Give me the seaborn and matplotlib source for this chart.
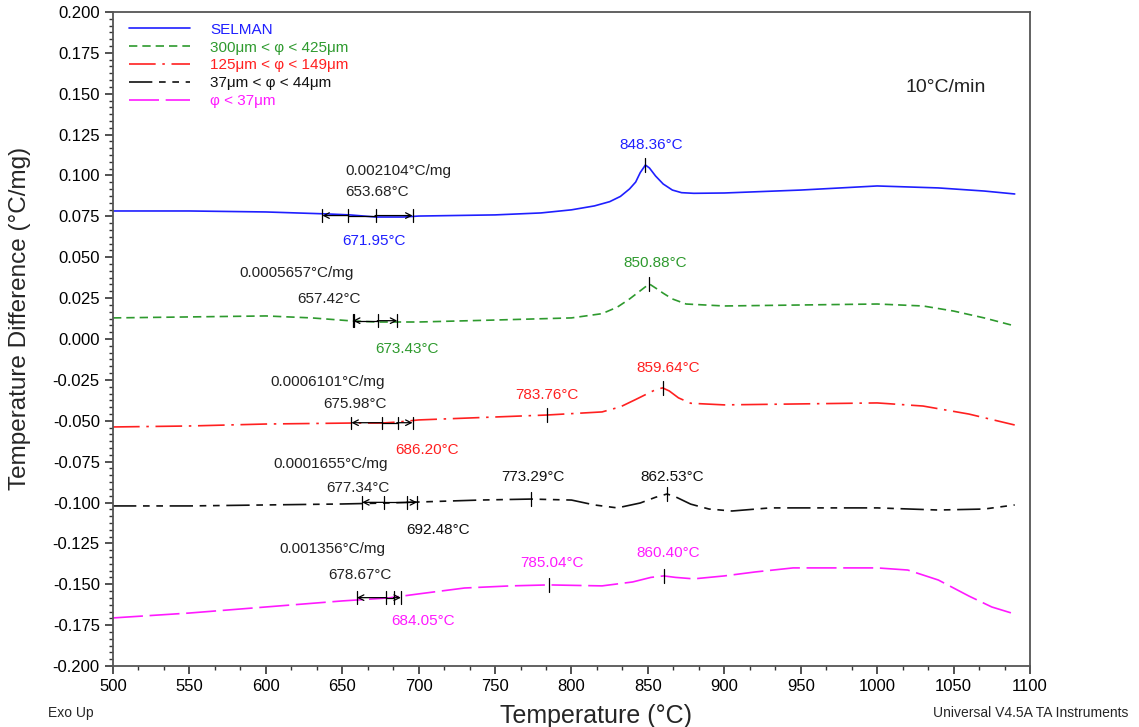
import matplotlib
matplotlib.use("Agg")
import matplotlib.pyplot as plt
from matplotlib.ticker import MultipleLocator, FormatStrFormatter
import numpy as np
import pandas as pd
import seaborn as sns

# ---- DSC traces (temperature in °C, temperature difference in °C/mg) ----
selman_T = [500, 550, 600, 620, 640, 655, 672, 690, 700, 750, 780, 800, 815, 825, 832, 838,
            842, 845, 848.36, 851, 855, 860, 866, 872, 880, 900, 950, 1000, 1040, 1070, 1090]
selman_y = [0.0783, 0.0783, 0.0777, 0.0771, 0.0765, 0.0759, 0.0746, 0.0746, 0.0752, 0.0759,
            0.0771, 0.0790, 0.0814, 0.0840, 0.0872, 0.0918, 0.0960, 0.1018, 0.1064, 0.1046,
            0.0997, 0.0948, 0.0911, 0.0895, 0.0891, 0.0893, 0.0911, 0.0936, 0.0924, 0.0905,
            0.0887]

coarse_T = [500, 550, 600, 630, 657, 673, 700, 750, 800, 820, 830, 838, 845, 850.88, 855, 860,
            866, 875, 900, 950, 1000, 1030, 1050, 1070, 1090]
coarse_y = [0.0129, 0.0135, 0.0141, 0.0129, 0.0110, 0.0104, 0.0104, 0.0116, 0.0129, 0.0155,
            0.0195, 0.0245, 0.0295, 0.0337, 0.0312, 0.0280, 0.0245, 0.0214, 0.0202, 0.0208,
            0.0214, 0.0202, 0.0171, 0.0129, 0.0080]

medium_T = [500, 550, 600, 656, 676, 686, 700, 750, 783.76, 820, 832, 842, 850, 855, 859.64,
            864, 870, 878, 900, 950, 1000, 1030, 1060, 1090]
medium_y = [-0.0538, -0.0532, -0.0520, -0.0514, -0.0514, -0.0508, -0.0495, -0.0477, -0.0465,
            -0.0446, -0.0415, -0.0370, -0.0333, -0.0310, -0.0299, -0.0318, -0.0360, -0.0393,
            -0.0403, -0.0397, -0.0391, -0.0410, -0.0459, -0.0526]

fine_T = [500, 550, 600, 650, 680, 700, 740, 773.29, 800, 815, 830, 845, 855, 862.53, 868,
          878, 890, 905, 930, 1000, 1040, 1070, 1090]
fine_y = [-0.1021, -0.1021, -0.1015, -0.1009, -0.1003, -0.0997, -0.0985, -0.0979, -0.0985,
          -0.1015, -0.1033, -0.1003, -0.0968, -0.0948, -0.0965, -0.1010, -0.1040, -0.1052,
          -0.1033, -0.1033, -0.1046, -0.1040, -0.1015]

finest_T = [500, 550, 600, 650, 680, 700, 730, 760, 785.04, 820, 840, 852, 860.40, 868, 880,
            900, 920, 945, 1000, 1020, 1040, 1060, 1075, 1090]
finest_y = [-0.1706, -0.1676, -0.1639, -0.1602, -0.1584, -0.1559, -0.1523, -0.1510, -0.1504,
            -0.1510, -0.1486, -0.1458, -0.1449, -0.1458, -0.1467, -0.1449, -0.1425, -0.1400,
            -0.1400, -0.1413, -0.1474, -0.1572, -0.1639, -0.1682]

labels = ["SELMAN", "300μm < φ < 425μm", "125μm < φ < 149μm", "37μm < φ < 44μm", "φ < 37μm"]
colors = ["#1f1fff", "#2e9a2e", "#ff2020", "#111111", "#ff1aff"]
styles = ["-", (0, (5, 3)), (0, (16, 4, 1.5, 4)), (0, (14, 4, 4, 4, 4, 4)), (0, (18, 4))]
series_T = [selman_T, coarse_T, medium_T, fine_T, finest_T]
series_y = [selman_y, coarse_y, medium_y, fine_y, finest_y]

# Glass transition analyses: y level, left limit, onset, midpoint, right limit, slope text
tg_y = [0.0755, 0.0112, -0.0512, -0.0999, -0.1582]
tg_left = [637, 657, 656, 663, 659.6]
tg_onset = [653.68, 657.42, 675.98, 677.34, 678.67]
tg_mid = [671.95, 673.43, 686.20, 692.48, 684.05]
tg_right = [696, 686, 696, 699, 688.4]
tg_slope = ["0.002104°C/mg", "0.0005657°C/mg", "0.0006101°C/mg", "0.0001655°C/mg", "0.001356°C/mg"]

# Peak temperatures marked on each trace: series index, T, y
peak_series = [0, 1, 2, 2, 3, 3, 4, 4]
peak_T = [848.36, 850.88, 783.76, 859.64, 773.29, 862.53, 785.04, 860.40]
peak_y = [0.1064, 0.0337, -0.0465, -0.0299, -0.0979, -0.0948, -0.1504, -0.1449]

sns.set_style("ticks")
plt.rcParams["font.family"] = ["Liberation Sans", "DejaVu Sans"]

fig = plt.figure(figsize=(11.39, 7.27), dpi=100)
ax = fig.add_axes([0.0992, 0.0839, 0.8051, 0.8996])

for T, y, lab, c, ls in zip(series_T, series_y, labels, colors, styles):
    df = pd.DataFrame({"T": T, "y": y})
    sns.lineplot(data=df, x="T", y="y", ax=ax, color=c, linestyle=ls, linewidth=1.2,
                 label=lab, estimator=None, sort=False)

# Glass transition markers
fs = 11
for i in range(5):
    y0 = tg_y[i]
    ax.annotate("", xy=(tg_left[i], y0), xytext=(tg_onset[i] + 0.5, y0),
                arrowprops=dict(arrowstyle="->", color="black", lw=0.9, shrinkA=0, shrinkB=0))
    ax.annotate("", xy=(tg_right[i], y0), xytext=(tg_mid[i] - 0.5, y0),
                arrowprops=dict(arrowstyle="->", color="black", lw=0.9, shrinkA=0, shrinkB=0))
    ax.plot([tg_onset[i], tg_mid[i]], [y0, y0], color="black", lw=0.9)
    for xv in (tg_left[i], tg_onset[i], tg_mid[i], tg_right[i]):
        ax.plot([xv, xv], [y0 - 0.0038, y0 + 0.0038], color="black", lw=0.9)

slope_pos = [(651.8, 0.1028), (583, 0.0404), (602.7, -0.0263), (604.7, -0.0765), (609, -0.1284)]
onset_pos = [(651.8, 0.0899), (662, 0.0245), (679, -0.0400), (681, -0.0910), (682, -0.1443)]
onset_ha = ["left", "right", "right", "right", "right"]
mid_pos = [(671.0, 0.0600), (671.4, -0.0060), (684.5, -0.0679), (691.7, -0.1168), (682, -0.1725)]
mid_ha = ["center", "left", "left", "left", "left"]
for i in range(5):
    ax.text(*slope_pos[i], tg_slope[i], fontsize=fs, color="#222222", ha="left", va="center")
    ax.text(*onset_pos[i], f"{tg_onset[i]:.2f}°C", fontsize=fs, color="#222222",
            ha=onset_ha[i], va="center")
    ax.text(*mid_pos[i], f"{tg_mid[i]:.2f}°C", fontsize=fs, color=colors[i],
            ha=mid_ha[i], va="center")

# Peak markers and labels
peak_label_pos = [(852, 0.1187), (855, 0.0465), (784, -0.0340), (863, -0.0177),
                  (775, -0.0844), (866, -0.0844), (787, -0.1370), (863, -0.1310)]
for s, T, y, (lx, ly) in zip(peak_series, peak_T, peak_y, peak_label_pos):
    ax.plot([T, T], [y - 0.0045, y + 0.0045], color="black", lw=0.9)
    ax.text(lx, ly, f"{T:.2f}°C", fontsize=fs, color=colors[s], ha="center", va="center")

ax.text(1045, 0.154, "10°C/min", fontsize=14, color="#222222", ha="center", va="center")

# Axes
ax.set_xlim(500, 1100)
ax.set_ylim(-0.200, 0.200)
ax.xaxis.set_major_locator(MultipleLocator(50))
ax.xaxis.set_minor_locator(MultipleLocator(50 / 3))
ax.yaxis.set_major_locator(MultipleLocator(0.025))
ax.yaxis.set_minor_locator(MultipleLocator(0.025 / 6))
ax.yaxis.set_major_formatter(FormatStrFormatter("%.3f"))
ax.tick_params(axis="both", which="major", direction="out", length=6, width=1.2,
               labelsize=12, colors="#333333", labelcolor="black")
ax.tick_params(axis="both", which="minor", direction="out", length=3, width=1.0,
               colors="#333333")
for sp in ax.spines.values():
    sp.set_color("#555555")
    sp.set_linewidth(1.3)
ax.set_xlabel("Temperature (°C)", fontsize=18, va="center")
ax.set_ylabel("Temperature Difference (°C/mg)", fontsize=17.5, va="center")
ax.xaxis.set_label_coords(0.527, -0.077)
ax.yaxis.set_label_coords(-0.101, 0.531)

leg = ax.legend(loc="upper left", frameon=False, fontsize=11, handlelength=4.0,
                handletextpad=1.3, labelspacing=0.25, borderaxespad=0.3,
                bbox_to_anchor=(0.006, 1.0))
for txt, c in zip(leg.get_texts(), colors):
    txt.set_color(c)

fig.text(0.042, 0.019, "Exo Up", fontsize=10, ha="left", va="center")
fig.text(0.991, 0.019, "Universal V4.5A TA Instruments", fontsize=10, ha="right", va="center")

fig.savefig("out.png", dpi=100)
